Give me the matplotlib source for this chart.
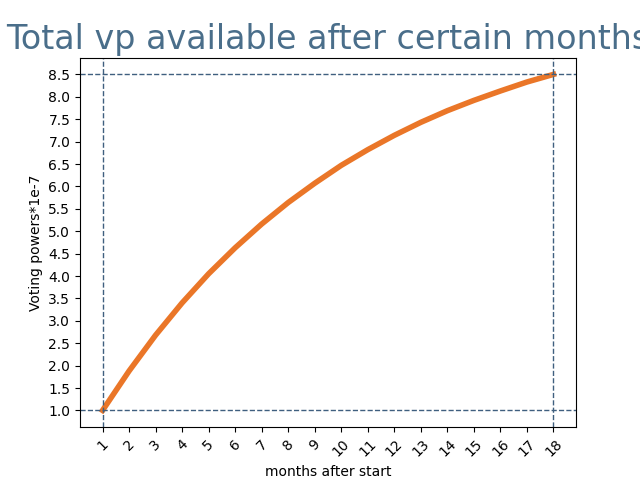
import numpy as np
import matplotlib
matplotlib.use('Agg')
import matplotlib.pyplot as plt

months = list(range(1, 19))
vp = [1.0, 1.88, 2.68, 3.4, 4.05, 4.63, 5.16, 5.64, 6.07, 6.47,
      6.82, 7.14, 7.43, 7.69, 7.92, 8.13, 8.33, 8.5]

fig, ax = plt.subplots(figsize=(6.4, 4.8), dpi=100)
ax.plot(months, vp, color='#ea7628', linewidth=4)

ax.axvline(x=months[0], linewidth=1, linestyle='--', color='#3f5f7f')
ax.axvline(x=months[-1], linewidth=1, linestyle='--', color='#3f5f7f')
ax.axhline(y=vp[0], linewidth=1, linestyle='--', color='#3f5f7f')
ax.axhline(y=vp[-1], linewidth=1, linestyle='--', color='#3f5f7f')

ax.set_xticks(months)
ax.set_xticklabels([str(m) for m in months], rotation=45)
ax.set_yticks(np.arange(1.0, 8.51, 0.5))
ax.set_xlabel('months after start')
ax.set_ylabel('Voting powers*1e-7')
ax.set_title('Total vp available after certain months', fontsize=24, color='#4a6e8a')

fig.savefig('out.png')
